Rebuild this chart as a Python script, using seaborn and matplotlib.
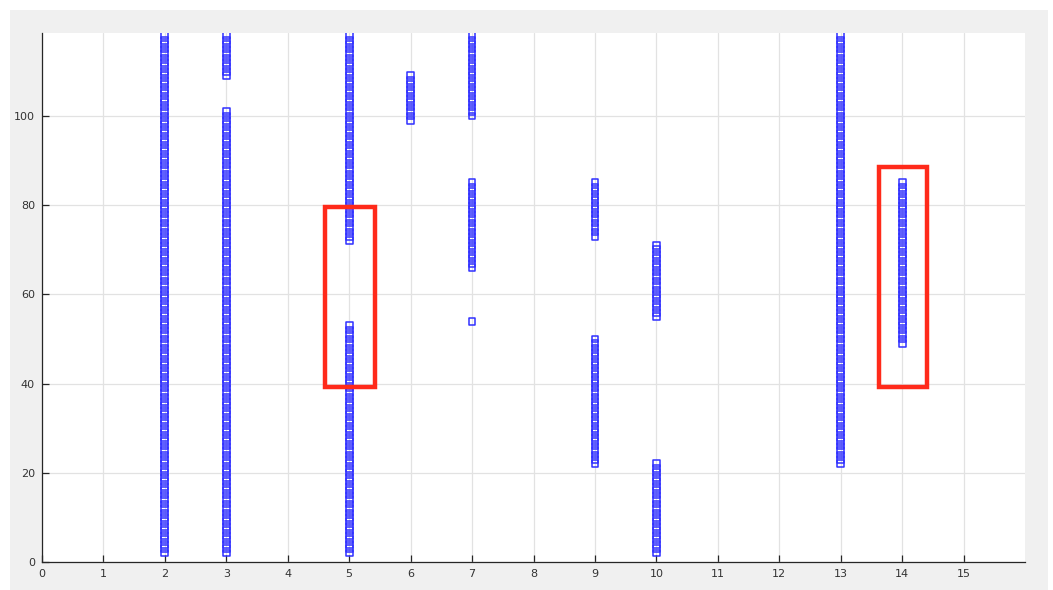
import numpy as np
import pandas as pd
import matplotlib
matplotlib.use("Agg")
import matplotlib.pyplot as plt
from matplotlib.patches import Rectangle
import seaborn as sns

# Runs of consecutive integer y-values observed at each x position
seg_x = [2, 3, 3, 5, 5, 6, 7, 7, 7, 9, 9, 10, 10, 13, 14]
seg_start = [2, 2, 109, 2, 72, 99, 54, 66, 100, 22, 73, 2, 55, 22, 49]
seg_end = [118, 101, 118, 53, 118, 109, 54, 85, 118, 50, 85, 22, 71, 118, 85]

# Highlight boxes: (x0, x1, y0, y1)
box_x0 = [4.6, 13.63]
box_x1 = [5.42, 14.41]
box_y0 = [39.3, 39.3]
box_y1 = [79.6, 88.5]

x_ticks = list(range(0, 16))
y_ticks = [0, 20, 40, 60, 80, 100]

xs, ys = [], []
for x, a, b in zip(seg_x, seg_start, seg_end):
    for y in range(a, b + 1):
        xs.append(x)
        ys.append(y)
df = pd.DataFrame({"x": xs, "y": ys})

sns.set_style("white")
plt.rcParams['font.family'] = ['DejaVu Sans']

W, H = 1053, 590
fig = plt.figure(figsize=(W / 100, H / 100), dpi=100, facecolor="white")
# gray figure panel
bg = Rectangle((10 / W, 0), (1048 - 10) / W, (590 - 10) / H,
               transform=fig.transFigure, facecolor="#f0f0f0",
               edgecolor="none", zorder=-10)
fig.patches.append(bg)
ax = fig.add_axes([42 / W, 1 - 562 / H, (1025 - 42) / W, (562 - 33) / H])
ax.set_zorder(1)
ax.set_facecolor("white")

sns.scatterplot(data=df, x="x", y="y", ax=ax, marker="s", s=24,
                facecolor="none", edgecolor="#3030ff", linewidth=1.1,
                legend=False, zorder=3)

for x0, x1, y0, y1 in zip(box_x0, box_x1, box_y0, box_y1):
    ax.add_patch(Rectangle((x0, y0), x1 - x0, y1 - y0, fill=False,
                           edgecolor="#ff2a1a", linewidth=3.2, zorder=4,
                           joinstyle="miter"))

ax.set_xlim(0, 16)
ax.set_ylim(0, 118.6)
ax.set_xticks(x_ticks)
ax.set_yticks(y_ticks)
ax.set_xlabel("")
ax.set_ylabel("")
ax.grid(True, color="#e2e2e2", linewidth=0.9)
ax.set_axisbelow(True)
for side in ["top", "right"]:
    ax.spines[side].set_visible(False)
for side in ["left", "bottom"]:
    ax.spines[side].set_color("#262626")
    ax.spines[side].set_linewidth(0.9)
ax.tick_params(direction="in", length=5, width=0.9, color="#262626",
               labelsize=8, labelcolor="#333333", pad=5, left=True, bottom=True)

fig.savefig("out.png", dpi=100, facecolor="white")
